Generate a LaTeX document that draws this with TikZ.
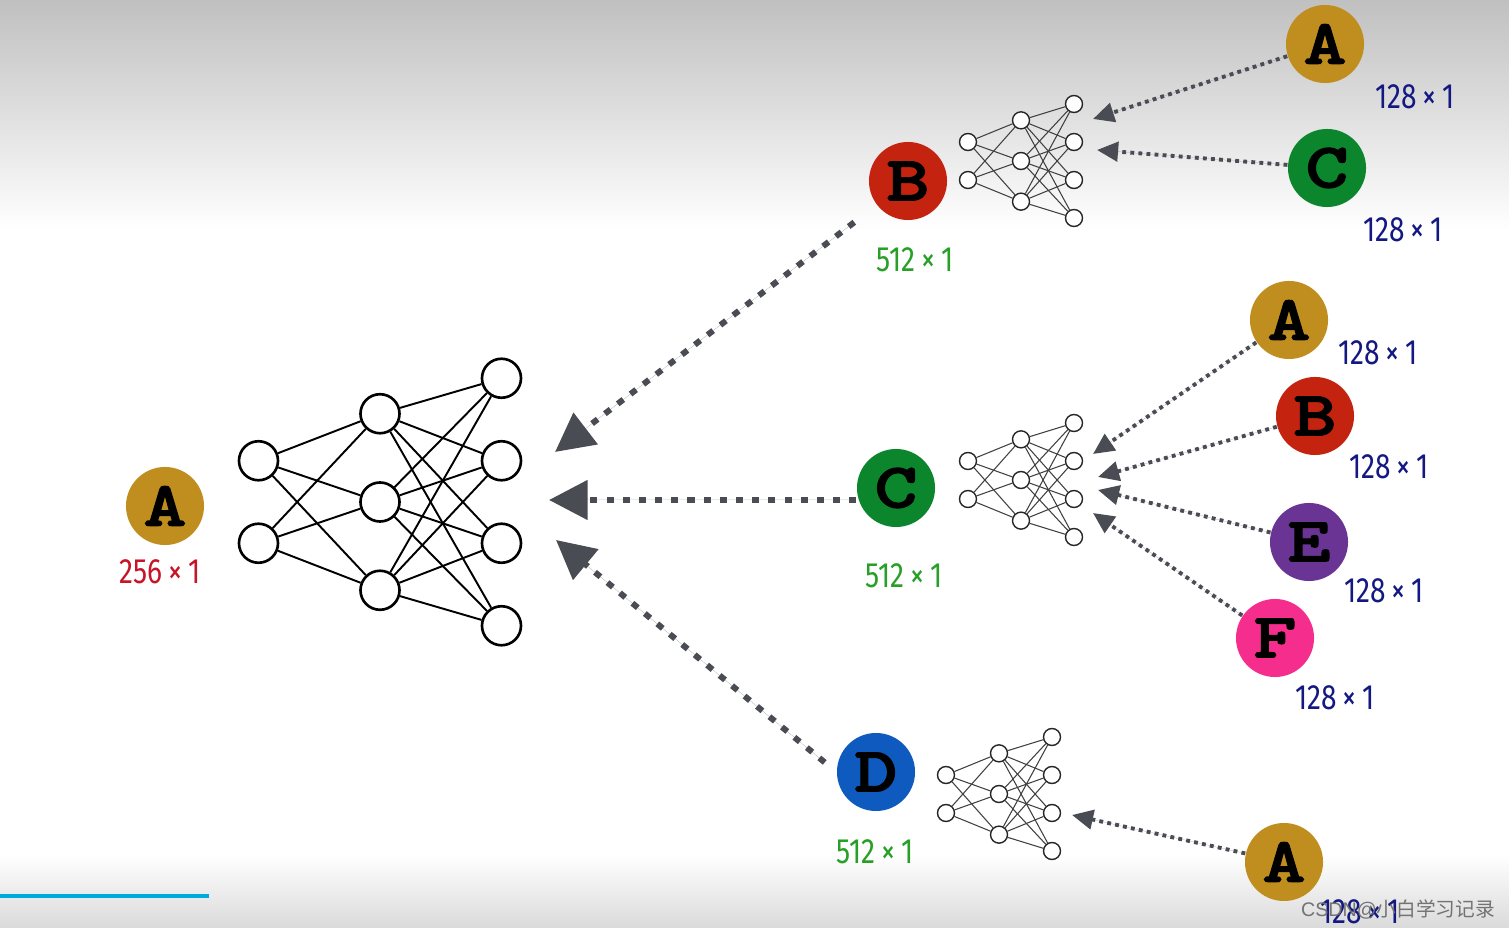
\documentclass[tikz,border=0pt]{standalone}
\usepackage{fontspec}
\usetikzlibrary{positioning}
\usetikzlibrary{arrows.meta}

\newfontfamily\letterfont{lmmonolt10-bold}[Extension=.otf, FakeBold=2, FakeStretch=1.3]
\newfontfamily\dimfont[FakeStretch=0.8]{Fira Sans}
\newfontfamily\markfont{Liberation Sans}
\newfontfamily\cjkfont{Noto Sans CJK SC}

\definecolor{tokengold}{RGB}{191,142,30}
\definecolor{tokenred}{RGB}{195,35,15}
\definecolor{tokengreen}{RGB}{12,134,45}
\definecolor{tokenblue}{RGB}{15,90,190}
\definecolor{tokenpurple}{RGB}{106,52,148}
\definecolor{tokenpink}{RGB}{245,45,140}
\definecolor{dimred}{RGB}{200,20,40}
\definecolor{dimgreen}{RGB}{40,160,40}
\definecolor{dimblue}{RGB}{20,25,130}
\definecolor{flowgrey}{RGB}{74,76,84}
\definecolor{bgtop}{RGB}{192,192,192}
\definecolor{bgbottom}{RGB}{218,218,218}
\definecolor{barblue}{RGB}{0,168,224}

% small fully connected net: 2-3-4 layers
\newcommand{\drawnet}[6]{%
  \foreach \i in {1,2}
    \node[#6 neuron] (#1-a\i) at ({#2-#4},{#3+(\i-1.5)*#5}) {};
  \foreach \i in {1,2,3}
    \node[#6 neuron] (#1-b\i) at (#2,{#3+(\i-2)*#5*1.07}) {};
  \foreach \i in {1,...,4}
    \node[#6 neuron] (#1-c\i) at ({#2+#4},{#3+(\i-2.5)*#5}) {};
  \foreach \i in {1,2}
    \foreach \j in {1,2,3}
      \draw[#6 link] (#1-a\i) -- (#1-b\j);
  \foreach \j in {1,2,3}
    \foreach \k in {1,...,4}
      \draw[#6 link] (#1-b\j) -- (#1-c\k);
}

\begin{document}
\begin{tikzpicture}[
        x=0.01cm, y=-0.01cm,
        token/.style={circle, inner sep=0pt, minimum size=0.78cm, font=\letterfont\fontsize{18pt}{18pt}\selectfont},
        dim/.style={inner sep=0pt, font=\dimfont\fontsize{10pt}{10pt}\selectfont},
        big neuron/.style={circle, draw=black, fill=white, line width=0.75pt, inner sep=0pt, minimum size=0.39cm},
        big link/.style={draw=black, line width=0.55pt},
        small neuron/.style={circle, draw=black!85, fill=white, line width=0.4pt, inner sep=0pt, minimum size=0.17cm},
        small link/.style={draw=black!75, line width=0.3pt},
        bigflow/.style={draw=flowgrey, fill=flowgrey, line width=1.7pt, dash pattern=on 2pt off 2.6pt, -{Triangle[length=11pt, width=11pt]}},
        smallflow/.style={draw=flowgrey, fill=flowgrey, line width=1.1pt, dash pattern=on 1.1pt off 1.2pt, -{Triangle[length=6pt, width=5.5pt]}}
        ]

        % Background
        \useasboundingbox (0,0) rectangle (1509,928);
        \fill[white] (0,0) rectangle (1509,928);
        \shade[top color=bgtop, bottom color=white] (0,0) rectangle (1509,230);
        \shade[top color=white, bottom color=bgbottom] (0,855) rectangle (1509,928);
        \fill[barblue] (0,894) rectangle (209,898);

        % Networks
        \drawnet{main}{380}{502}{121.5}{82.5}{big}
        \drawnet{netB}{1021}{161}{53}{38}{small}
        \drawnet{netC}{1021}{480}{53}{38}{small}
        \drawnet{netD}{999}{794}{53}{38}{small}

        % Tokens
        \node[token, fill=tokengold] (inA) at (165,506) {A};
        \node[dim, text=dimred] (inAdim) at (160,572) {256\,×\,1};

        \node[token, fill=tokenred] (ctxB) at (908,181) {B};
        \node[dim, text=dimgreen] (ctxBdim) at (915,260) {512\,×\,1};
        \node[token, fill=tokengreen] (ctxC) at (896,488) {C};
        \node[dim, text=dimgreen] (ctxCdim) at (904,576) {512\,×\,1};
        \node[token, fill=tokenblue] (ctxD) at (876,772) {D};
        \node[dim, text=dimgreen] (ctxDdim) at (875,852) {512\,×\,1};

        \node[token, fill=tokengold] (bA) at (1325,44) {A};
        \node[dim, text=dimblue] (bAdim) at (1415,97) {128\,×\,1};
        \node[token, fill=tokengreen] (bC) at (1327,168) {C};
        \node[dim, text=dimblue] (bCdim) at (1403,230) {128\,×\,1};

        \node[token, fill=tokengold] (cA) at (1289,320) {A};
        \node[dim, text=dimblue] (cAdim) at (1378,353) {128\,×\,1};
        \node[token, fill=tokenred] (cB) at (1315,416) {B};
        \node[dim, text=dimblue] (cBdim) at (1389,467) {128\,×\,1};
        \node[token, fill=tokenpurple] (cE) at (1309,542) {E};
        \node[dim, text=dimblue] (cEdim) at (1384,591) {128\,×\,1};
        \node[token, fill=tokenpink] (cF) at (1275,638) {F};
        \node[dim, text=dimblue] (cFdim) at (1335,698) {128\,×\,1};

        \node[token, fill=tokengold] (dA) at (1284,862) {A};
        \node[dim, text=dimblue] (dAdim) at (1360,912) {128\,×\,1};

        % Arrow ends
        \coordinate (tipB) at (555,452);
        \coordinate (tipC) at (549,500);
        \coordinate (tipD) at (556,540);
        \coordinate (tipBA) at (1093,119);
        \coordinate (tipBC) at (1097,150);
        \coordinate (tipCA) at (1093,454);
        \coordinate (tipCB) at (1098,477);
        \coordinate (tipCE) at (1098,490);
        \coordinate (tipCF) at (1093,513);
        \coordinate (tipDA) at (1072,815);

        % Arrows
        \draw[bigflow, shorten <=0.28cm] (ctxB) -- (tipB);
        \draw[bigflow] (ctxC.west |- tipC) -- (tipC);
        \draw[bigflow, shorten <=0.15cm] (ctxD.west) -- (tipD);

        \draw[smallflow] (bA) -- (tipBA);
        \draw[smallflow] (bC) -- (tipBC);
        \draw[smallflow] (cA) -- (tipCA);
        \draw[smallflow] (cB) -- (tipCB);
        \draw[smallflow] (cE) -- (tipCE);
        \draw[smallflow] (cF) -- (tipCF);
        \draw[smallflow] (dA) -- (tipDA);

        % Watermark
        \node[inner sep=0pt, text=black!55, font=\markfont\fontsize{5.6pt}{5.6pt}\selectfont] (mark) at (1398,909) {CSDN@{\cjkfont 小白学习记录}};

    \end{tikzpicture}
\end{document}
